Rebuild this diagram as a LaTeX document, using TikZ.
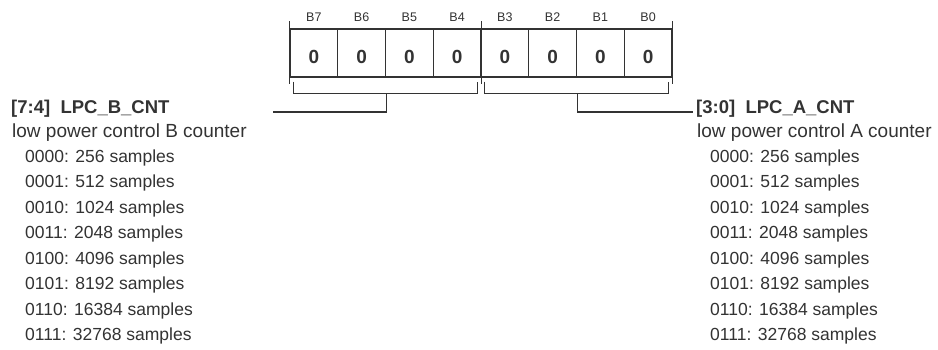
\documentclass[tikz,border=0pt]{standalone}
\usepackage{fontspec}
\setmainfont{Liberation Sans}
\usepackage{tikz}
\usetikzlibrary{positioning}
\definecolor{regink}{HTML}{333333}

\begin{document}
\begin{tikzpicture}[x=1pt,y=-1pt,
  cell/.style={draw=regink,line width=1.1pt,minimum width=47.75pt,minimum height=48pt,inner sep=0pt,
    font=\fontsize{19}{19}\selectfont\bfseries,text=regink,text height=20pt,text depth=0pt},
  bitlbl/.style={font=\fontsize{12.5}{12.5}\selectfont,text=regink,anchor=base,inner sep=0pt},
  ticks/.style={draw=regink,line width=1.1pt},
  brk/.style={draw=regink,line width=1.1pt},
  fldname/.style={font=\fontsize{18.5}{18.5}\selectfont\bfseries,text=regink,anchor=base west,inner sep=0pt},
  flddesc/.style={font=\fontsize{19}{19}\selectfont,text=regink,anchor=base west,inner sep=0pt},
  fldval/.style={font=\fontsize{17.5}{17.5}\selectfont,text=regink,anchor=base west,inner sep=0pt}]
  \useasboundingbox[fill=white] (0,0) rectangle (938,349);
  \foreach \b [count=\i from 0] in {7,6,5,4,3,2,1,0} {
    \node[cell] (c\b) at (313.875+47.75*\i,53) {0};
    \node[bitlbl] (b\b) at (313.875+47.75*\i,21) {B\b};
  }
  \foreach \c/\a in {c7/west,c4/east,c0/east}
    \draw[ticks] ([yshift=7pt]\c.north \a) -- ([yshift=-6pt]\c.south \a);
  \draw[brk] ([xshift=4pt,yshift=-4pt]c7.south west) -- ++(0pt,-12pt)
    -| ([xshift=-4pt,yshift=-4pt]c4.south east);
  \draw[brk] ([xshift=4pt,yshift=-4pt]c3.south west) -- ++(0pt,-12pt)
    -| ([xshift=-4pt,yshift=-4pt]c0.south east);
  \coordinate (tipB) at (273,112);
  \coordinate (tipA) at (693,112);
  \draw[brk] ([yshift=-16pt]c6.south east) |- (tipB);
  \draw[brk] ([yshift=-16pt]c2.south east) |- (tipA);
  \node[fldname] (nameB) at (11,113) {[7:4]\ \ LPC\_B\_CNT};
  \node[flddesc] (descB) at (12,137) {low power control B counter};
  \node[fldname] (nameA) at (696,113) {[3:0]\ \ LPC\_A\_CNT};
  \node[flddesc] (descA) at (697,137) {low power control A counter};
  \foreach \v/\n [count=\k from 0] in {0000/256,0001/512,0010/1024,0011/2048,
      0100/4096,0101/8192,0110/16384,0111/32768} {
    \node[fldval] (valB\k) at (25,162+25.5*\k) {\v: \n\ samples};
    \node[fldval] (valA\k) at (710,162+25.5*\k) {\v: \n\ samples};
  }
\end{tikzpicture}
\end{document}
